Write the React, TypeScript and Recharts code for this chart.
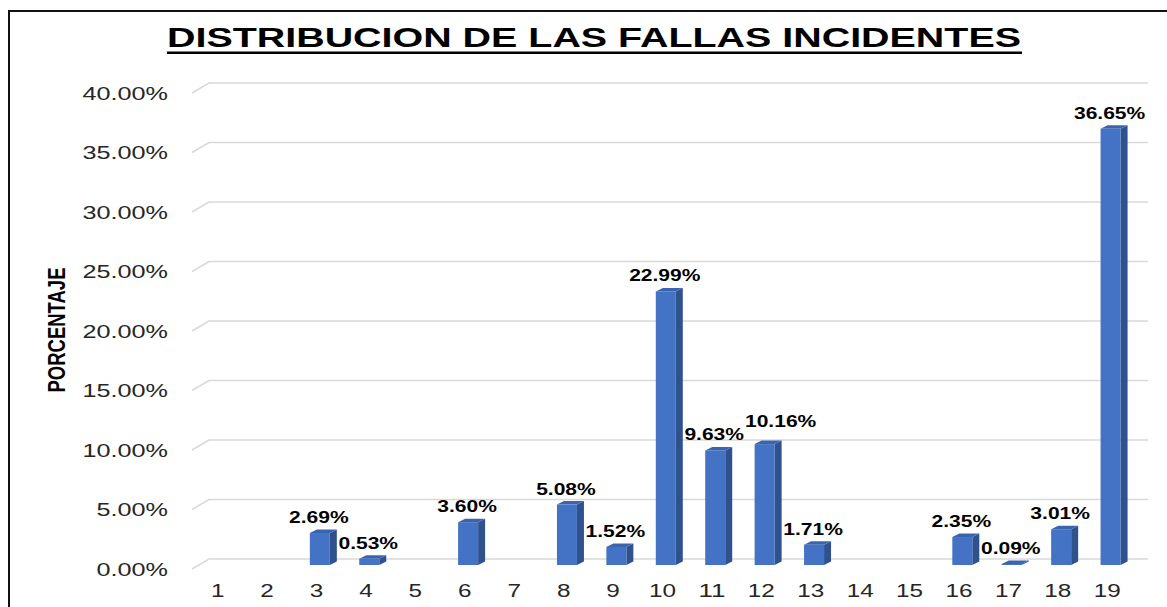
import React from 'react';
import { BarChart, Bar, XAxis, YAxis, CartesianGrid, LabelList } from 'recharts';

const categories = ['1', '2', '3', '4', '5', '6', '7', '8', '9', '10', '11', '12', '13', '14', '15', '16', '17', '18', '19'];
const percentages = [0, 0, 2.69, 0.53, 0, 3.6, 0, 5.08, 1.52, 22.99, 9.63, 10.16, 1.71, 0, 0, 2.35, 0.09, 3.01, 36.65];
const yTicks = [0, 5, 10, 15, 20, 25, 30, 35, 40];
const chartTitle = 'DISTRIBUCION DE LAS FALLAS INCIDENTES';
const yAxisTitle = 'PORCENTAJE';

const data = categories.map((c, i) => ({ cat: c, value: percentages[i] }));

const FONT = '"Liberation Sans", Arial, sans-serif';
const STRETCH = 1.4;
const charW: Record<string, number> = { '.': 0.278, '%': 0.889 };
const textWidth = (s: string, size: number) =>
  s.split('').reduce((a, ch) => a + (charW[ch] !== undefined ? charW[ch] : 0.556), 0) * size;

const fmt = (v: number) => `${v.toFixed(2)}%`;

// perspective offsets
const GDX = 17;
const GDY = 10;
const BOX = 4;
const BOY = 4;
const DEPX = 7;
const DEPY = 3.5;

const GridLine = (props: any) => {
  const { x1, x2, y1 } = props;
  return (
    <polyline
      points={`${x1},${y1} ${x1 + GDX},${y1 - GDY} ${x2 + GDX},${y1 - GDY}`}
      fill="none"
      stroke="#d9d9d9"
      strokeWidth={1.5}
    />
  );
};

const Bar3D = (props: any) => {
  const { x, y, width, height, value } = props;
  if (!value) return <g />;
  const X = x + BOX;
  const Y = y - BOY;
  const w = width;
  const h = Math.max(height, 0.8);
  return (
    <g>
      <polygon
        points={`${X + w},${Y} ${X + w + DEPX},${Y - DEPY} ${X + w + DEPX},${Y + h - DEPY} ${X + w},${Y + h}`}
        fill="#2F528F"
      />
      <polygon
        points={`${X},${Y} ${X + DEPX},${Y - DEPY} ${X + w + DEPX},${Y - DEPY} ${X + w},${Y}`}
        fill="#3A64AE"
      />
      <rect x={X} y={Y} width={w} height={h} fill="#4472C4" />
    </g>
  );
};

const BarLabel = (props: any) => {
  const { x, y, width, value, index } = props;
  if (!value) return null;
  const s = fmt(Number(value));
  const size = 16;
  const prev = index > 0 ? percentages[index - 1] : 0;
  const clash = prev > 0 && Math.abs(prev - Number(value)) < 1.5;
  const dx = clash ? 20 : 3;
  const dy = clash ? 21 : 14;
  return (
    <text
      x={x + width / 2 + dx}
      y={y - dy}
      textAnchor="middle"
      fontFamily={FONT}
      fontWeight="bold"
      fontSize={size}
      fill="#000"
      textLength={textWidth(s, 15) * STRETCH}
      lengthAdjust="spacingAndGlyphs"
    >
      {s}
    </text>
  );
};

const YTick = (props: any) => {
  const { y, payload } = props;
  const s = fmt(Number(payload.value));
  const size = 18;
  return (
    <text
      x={168}
      y={y + 6.5}
      textAnchor="end"
      fontFamily={FONT}
      fontSize={size}
      fill="#262626"
      textLength={textWidth(s, size) * STRETCH}
      lengthAdjust="spacingAndGlyphs"
    >
      {s}
    </text>
  );
};

const XTick = (props: any) => {
  const { x, payload } = props;
  const s = String(payload.value);
  const size = 18;
  return (
    <text
      x={x + 1}
      y={597}
      textAnchor="middle"
      fontFamily={FONT}
      fontSize={size}
      fill="#262626"
      textLength={textWidth(s, size) * 1.35}
      lengthAdjust="spacingAndGlyphs"
    >
      {s}
    </text>
  );
};

export default function App() {
  return (
    <div style={{ position: 'absolute', left: 0, top: 0, width: 1167, height: 607, background: '#fff', overflow: 'hidden' }}>
      <div
        style={{
          position: 'absolute',
          left: 8,
          top: 10,
          width: 1159,
          height: 597,
          boxSizing: 'border-box',
          borderTop: '2px solid #111',
          borderLeft: '2px solid #111',
        }}
      />
      <div style={{ position: 'absolute', left: 0, top: 0 }}>
        <BarChart
          width={1167}
          height={607}
          data={data}
          margin={{ top: 93, right: 36, bottom: 0, left: 0 }}
        >
          <CartesianGrid vertical={false} horizontal={GridLine} />
          <XAxis
            dataKey="cat"
            axisLine={false}
            tickLine={false}
            height={38}
            interval={0}
            tick={XTick}
          />
          <YAxis
            type="number"
            domain={[0, 40]}
            ticks={yTicks}
            axisLine={false}
            tickLine={false}
            width={192}
            interval={0}
            tick={YTick}
          />
          <Bar dataKey="value" barSize={20} shape={Bar3D} isAnimationActive={false}>
            <LabelList dataKey="value" content={BarLabel} />
          </Bar>
        </BarChart>
      </div>
      <svg
        width={1167}
        height={607}
        style={{ position: 'absolute', left: 0, top: 0, pointerEvents: 'none' }}
      >
        <text
          x={167}
          y={47}
          fontFamily={FONT}
          fontWeight="bold"
          fontSize={27}
          fill="#000"
          textLength={854}
          lengthAdjust="spacingAndGlyphs"
        >
          {chartTitle}
        </text>
        <rect x={167} y={51.5} width={855} height={2.5} fill="#000" />
        <text
          x={0}
          y={0}
          transform="translate(65,330) rotate(-90)"
          textAnchor="middle"
          fontFamily={FONT}
          fontWeight="bold"
          fontSize={23}
          fill="#000"
          textLength={125}
          lengthAdjust="spacingAndGlyphs"
        >
          {yAxisTitle}
        </text>
      </svg>
    </div>
  );
}
